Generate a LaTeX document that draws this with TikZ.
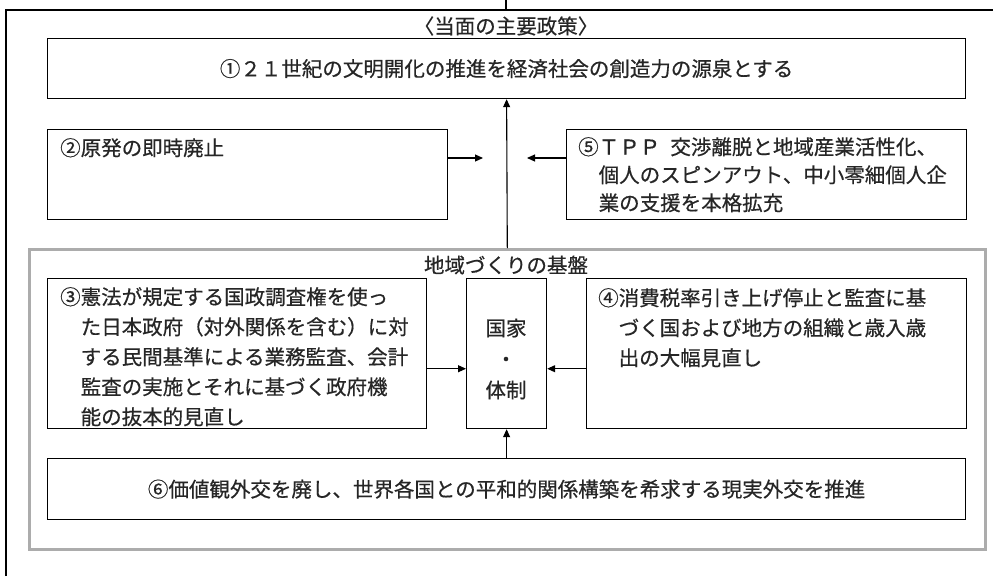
\documentclass[tikz,border=0pt]{standalone}
\usepackage{fontspec}
\setmainfont{Noto Sans CJK JP}[FakeBold=0.5]
\usetikzlibrary{arrows.meta,calc}
\begin{document}
\begin{tikzpicture}[x=1pt,y=-1pt,
  box/.style={draw=black,line width=1.2pt,inner sep=0pt,anchor=north west},
  gframe/.style={draw=gray!65,line width=2.6pt,inner sep=0pt,anchor=north west},
  txt/.style={inner sep=0pt,anchor=north west,align=left,text=black!85,font=\fontsize{20.5}{30}\selectfont},
  lbl/.style={inner sep=0pt,text=black!85,font=\fontsize{20.5}{30}\selectfont},
  arr/.style={line width=1.1pt,-{Triangle[length=8pt,width=7pt]}},
  ln/.style={line width=1.1pt}]
\useasboundingbox (0,0) rectangle (993,576);
\fill[white] (0,0) rectangle (993,576);
% outer frame
\coordinate (ofbl) at (6,576);
\coordinate (oftr) at (993,10);
\coordinate (topc) at (506,0);
\draw[ln] (ofbl) |- (oftr);
\draw[ln] (topc) -- (topc |- oftr);
% title
\node[lbl] (title) at (506,26) {〈当面の主要政策〉};
% box 1
\node[box,minimum width=918pt,minimum height=60pt] (b1) at (47,38) {};
\node[lbl] (t1) at (b1.center) {①２１世紀の文明開化の推進を経済社会の創造力の源泉とする};
% box 2
\node[box,minimum width=400pt,minimum height=90pt] (b2) at (47,129) {};
\node[txt] (t2) at (60,138) {②原発の即時廃止};
% box 5
\node[box,minimum width=400pt,minimum height=90pt] (b5) at (566,129) {};
\node[txt,font=\fontsize{20.5}{28}\selectfont] (t5) at (578,137) {⑤ＴＰＰ\hspace{0.5em}交渉離脱と地域産業活性化、\\\hspace*{1em}個人のスピンアウト、中小零細個人企\\\hspace*{1em}業の支援を本格拡充};
% gray frame
\node[gframe,minimum width=956pt,minimum height=300pt] (gf) at (28,248) {};
\node[lbl] (glbl) at (506,265) {地域づくりの基盤};
% box 3
\node[box,minimum width=379pt,minimum height=150pt] (b3) at (47,278) {};
\node[txt] (t3) at (60,287) {③憲法が規定する国政調査権を使っ\\\hspace*{1em}た日本政府（対外関係を含む）に対\\\hspace*{1em}する民間基準による業務監査、会計\\\hspace*{1em}監査の実施とそれに基づく政府機\\\hspace*{1em}能の抜本的見直し};
% center box
\node[box,minimum width=80pt,minimum height=150pt] (bc) at (466,278) {};
\node[lbl,align=center,font=\fontsize{20.5}{31}\selectfont] (tc) at (506,359) {国家\\・\\体制};
% box 4
\node[box,minimum width=380pt,minimum height=150pt] (b4) at (586,278) {};
\node[txt] (t4) at (598,288) {④消費税率引き上げ停止と監査に基\\\hspace*{1em}づく国および地方の組織と歳入歳\\\hspace*{1em}出の大幅見直し};
% box 6
\node[box,minimum width=918pt,minimum height=61pt] (b6) at (47,458) {};
\node[lbl] (t6) at (b6.center) {⑥価値観外交を廃し、世界各国との平和的関係構築を希求する現実外交を推進};
% connectors
\coordinate (a2) at (483,158);
\coordinate (a5) at (527,158);
\coordinate (m3) at ($(b3.north east)!0.6!(b3.south east)$);
\draw[arr] (a2 -| b2.east) -- (a2);
\draw[arr] (a5 -| b5.west) -- (a5);
\draw[arr] (gf.north) -- (b1.south);
\draw[arr] (m3) -- (m3 -| bc.west);
\draw[arr] (m3 -| b4.west) -- (m3 -| bc.east);
\draw[arr] (b6.north) -- (bc.south);
\end{tikzpicture}
\end{document}
